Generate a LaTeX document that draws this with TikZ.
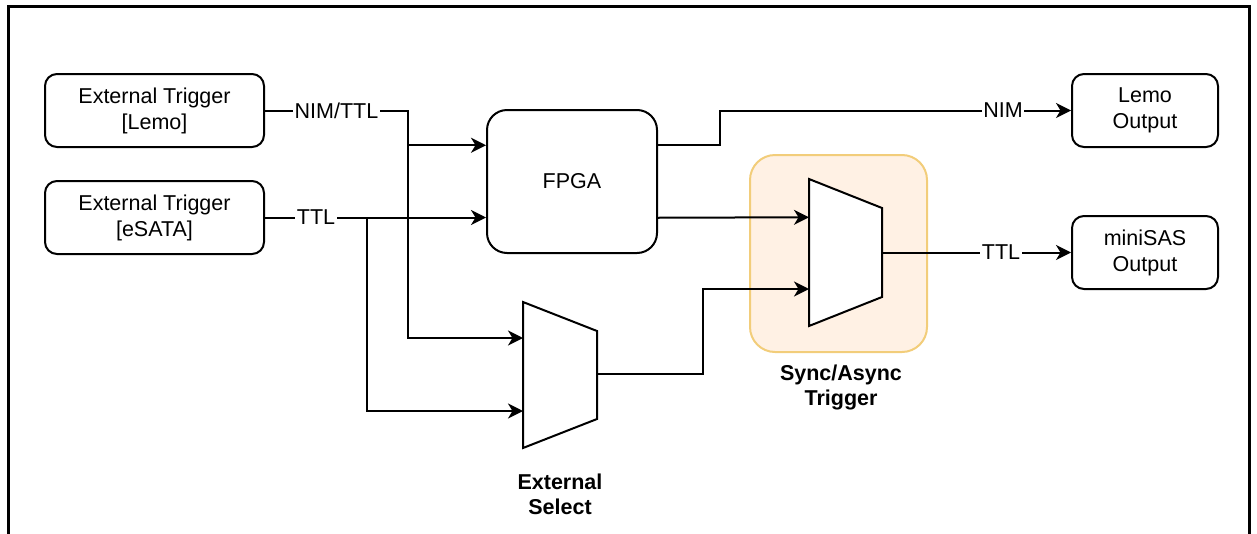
\documentclass[tikz,border=0pt]{standalone}
\usepackage{fontspec}
\setmainfont{Liberation Sans}
\usetikzlibrary{arrows.meta,calc}
\definecolor{syncfill}{HTML}{FFF1E4}
\definecolor{syncline}{HTML}{F2CD7A}

\begin{document}
\begin{tikzpicture}[x=1pt,y=-1pt,
  font=\fontsize{21.5}{26}\selectfont,
  wire/.style={line width=2pt, draw=black},
  arrowwire/.style={wire, -{Stealth[length=15pt,width=15pt,inset=4.5pt]}},
  block/.style={draw, line width=2pt, rounded corners=12pt, align=center,
                inner sep=0pt, fill=white},
  sig/.style={fill=white, inner sep=1.5pt},
  caption/.style={font=\fontsize{21.5}{25}\selectfont\bfseries, align=center},
  mux/.style={draw, line width=2pt, fill=white, line join=miter},
  group/.style={draw=syncline, fill=syncfill, line width=2pt, rounded corners=25pt}
]
\useasboundingbox (0,0) rectangle (1257,533);

% outer frame (open at the bottom)
\draw[line width=3pt] (8,545) -- (8,6) -- (1249,6) -- (1249,545);

% trigger sources
\node[block, minimum width=219pt, minimum height=73pt] (extL) at (154.5,110.5)
  {External Trigger\\{[Lemo]}};
\node[block, minimum width=219pt, minimum height=73pt] (extE) at (154.5,217.5)
  {External Trigger\\{[eSATA]}};

% FPGA
\node[block, rounded corners=20pt, minimum width=170pt, minimum height=143pt] (fpga)
  at (572,181.5) {FPGA};

% outputs
\node[block, minimum width=146pt, minimum height=73pt] (lemoOut) at (1145,110.5)
  {Lemo\\Output};
\node[block, minimum width=146pt, minimum height=73pt] (sasOut) at (1145,252.5)
  {miniSAS\\Output};

% sync/async group background
\node[group, minimum width=177pt, minimum height=197pt] (syncGroup) at (838.5,253.5) {};

% external select multiplexer
\draw[mux] (523,302) -- (597,331) -- (597,419) -- (523,448) -- cycle;
\coordinate (selIn1) at (523,338);
\coordinate (selIn2) at (523,411);
\coordinate (selOut) at (597,374);

% sync/async multiplexer
\draw[mux] (809,179) -- (882,208) -- (882,297) -- (809,326) -- cycle;
\coordinate (syncIn1) at (809,217.25);
\coordinate (syncIn2) at (809,289);
\coordinate (syncOut) at (882,252.5);

% FPGA ports
\coordinate (fpgaIn1) at ($(fpga.north west)!0.25!(fpga.south west)$);
\coordinate (fpgaOut1) at ($(fpga.north east)!0.25!(fpga.south east)$);
\coordinate (fpgaOut2) at ($(fpga.north east)!0.75!(fpga.south east)$);

% routing bends
\coordinate (jL) at (408,110.5);
\coordinate (jE) at (367,217.5);
\coordinate (jN) at (720,110.5);
\coordinate (jS) at (703,289);

% wires
\draw[arrowwire] (extL.east) -- (jL) |- (selIn1);
\draw[arrowwire] (jL |- fpgaIn1) -- (fpgaIn1);
\draw[arrowwire] (extE.east) -- (extE.east -| fpga.west);
\draw[arrowwire] (jE) |- (selIn2);
\draw[arrowwire] (fpgaOut1) -| (jN) -- (lemoOut.west);
\draw[arrowwire] (fpgaOut2) -- (syncIn1);
\draw[arrowwire] (selOut) -| (jS) -- (syncIn2);
\draw[arrowwire] (syncOut) -- (syncOut -| sasOut.west);

% signal labels
\node[sig] (lblNimTtl) at (336.5,110.5) {NIM/TTL};
\node[sig] (lblTtlIn) at (316,217.5) {TTL};
\node[sig] (lblNim) at (1003,110.5) {NIM};
\node[sig] (lblTtlOut) at (1001,252.5) {TTL};

% block captions
\node[caption] (capSel) at (560,494) {External\\Select};
\node[caption] (capSync) at (841,387) {Sync/Async\\Trigger};
\end{tikzpicture}
\end{document}
